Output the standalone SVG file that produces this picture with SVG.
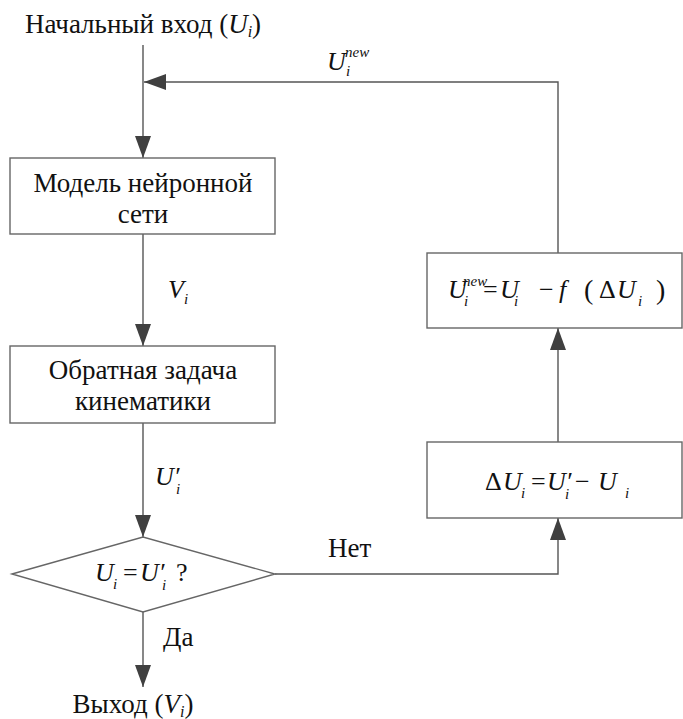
<svg xmlns="http://www.w3.org/2000/svg" width="683" height="719" viewBox="0 0 683 719">
<style>
text, tspan { font-family: 'Liberation Serif', serif !important; }
</style>
<defs>
<marker id="ah" viewBox="0 0 22 16" refX="22" refY="8" markerWidth="22" markerHeight="16" markerUnits="userSpaceOnUse" orient="auto">
<path d="M0,0 L22,8 L0,16 z" fill="#404040"/>
</marker>
</defs>
<g id="connectors" fill="none" stroke="#555" stroke-width="1.4">
<path d="M143,45 V158" marker-end="url(#ah)"/>
<path d="M558,253 V82 H144" marker-end="url(#ah)"/>
<path d="M143,234 V346" marker-end="url(#ah)"/>
<path d="M143,423 V537" marker-end="url(#ah)"/>
<path d="M143,612 V687" marker-end="url(#ah)"/>
<path d="M275,574 H558 V518" marker-end="url(#ah)"/>
<path d="M558,442 V328" marker-end="url(#ah)"/>
</g>
<g id="start">
<text style="font-family:'Liberation Serif' !important" font-family="Liberation Serif" fill="#111" font-size="27" x="143" y="33" text-anchor="middle">Начальный вход (<tspan font-style="italic">U</tspan><tspan font-style="italic" font-size="16" dy="4">i</tspan><tspan dy="-4">)</tspan></text>
</g>
<g id="label-unew" font-style="italic" fill="#111">
<text style="font-family:'Liberation Serif' !important" font-family="Liberation Serif" font-size="26" x="327" y="70">U</text>
<text style="font-family:'Liberation Serif' !important" font-family="Liberation Serif" font-size="15" x="345" y="57">new</text>
<text style="font-family:'Liberation Serif' !important" font-family="Liberation Serif" font-size="15" x="346" y="76">i</text>
</g>
<g id="nn" fill="#111">
<rect x="10" y="158" width="265" height="76" fill="#fff" stroke="#666" stroke-width="1.4"/>
<text style="font-family:'Liberation Serif' !important" font-family="Liberation Serif" font-size="27" x="143" y="192" text-anchor="middle">Модель нейронной</text>
<text style="font-family:'Liberation Serif' !important" font-family="Liberation Serif" font-size="27" x="143" y="223" text-anchor="middle">сети</text>
</g>
<g id="label-vi" font-style="italic" fill="#111">
<text style="font-family:'Liberation Serif' !important" font-family="Liberation Serif" font-size="26" x="168" y="298">V</text>
<text style="font-family:'Liberation Serif' !important" font-family="Liberation Serif" font-size="15" x="184" y="304">i</text>
</g>
<g id="ik" fill="#111">
<rect x="10" y="346" width="265" height="77" fill="#fff" stroke="#666" stroke-width="1.4"/>
<text style="font-family:'Liberation Serif' !important" font-family="Liberation Serif" font-size="27" x="143" y="379" text-anchor="middle">Обратная задача</text>
<text style="font-family:'Liberation Serif' !important" font-family="Liberation Serif" font-size="27" x="143" y="410" text-anchor="middle">кинематики</text>
</g>
<g id="label-uprime" font-style="italic" fill="#111">
<text style="font-family:'Liberation Serif' !important" font-family="Liberation Serif" font-size="26" x="155" y="485">U′</text>
<text style="font-family:'Liberation Serif' !important" font-family="Liberation Serif" font-size="15" x="176" y="494">i</text>
</g>
<g id="decision" fill="#111">
<path d="M12,574 L143,537 L275,574 L143,612 Z" fill="#fff" stroke="#666" stroke-width="1.4"/>
<text style="font-family:'Liberation Serif' !important" font-family="Liberation Serif" font-size="26" x="95" y="581" font-style="italic">U</text>
<text style="font-family:'Liberation Serif' !important" font-family="Liberation Serif" font-size="15" x="113" y="589" font-style="italic">i</text>
<text style="font-family:'Liberation Serif' !important" font-family="Liberation Serif" font-size="26" x="123" y="581">=</text>
<text style="font-family:'Liberation Serif' !important" font-family="Liberation Serif" font-size="26" x="140" y="581" font-style="italic">U′</text>
<text style="font-family:'Liberation Serif' !important" font-family="Liberation Serif" font-size="15" x="162" y="590" font-style="italic">i</text>
<text style="font-family:'Liberation Serif' !important" font-family="Liberation Serif" font-size="26" x="176" y="581">?</text>
</g>
<g id="label-yes" fill="#111">
<text style="font-family:'Liberation Serif' !important" font-family="Liberation Serif" font-size="27" x="163" y="646">Да</text>
</g>
<g id="end" fill="#111">
<text style="font-family:'Liberation Serif' !important" font-family="Liberation Serif" font-size="27" x="133" y="713" text-anchor="middle">Выход (<tspan font-style="italic">V</tspan><tspan font-style="italic" font-size="16" dy="4">i</tspan><tspan dy="-4">)</tspan></text>
</g>
<g id="label-no" fill="#111">
<text style="font-family:'Liberation Serif' !important" font-family="Liberation Serif" font-size="27" x="328" y="557">Нет</text>
</g>
<g id="delta" fill="#111">
<rect x="427" y="442" width="255" height="76" fill="#fff" stroke="#666" stroke-width="1.4"/>
<text style="font-family:'Liberation Serif' !important" font-family="Liberation Serif" font-size="26" x="485" y="490">Δ</text>
<text style="font-family:'Liberation Serif' !important" font-family="Liberation Serif" font-size="26" x="503" y="490" font-style="italic">U</text>
<text style="font-family:'Liberation Serif' !important" font-family="Liberation Serif" font-size="15" x="521" y="498" font-style="italic">i</text>
<text style="font-family:'Liberation Serif' !important" font-family="Liberation Serif" font-size="26" x="531" y="490">=</text>
<text style="font-family:'Liberation Serif' !important" font-family="Liberation Serif" font-size="26" x="547" y="490" font-style="italic">U′</text>
<text style="font-family:'Liberation Serif' !important" font-family="Liberation Serif" font-size="15" x="565" y="499" font-style="italic">i</text>
<text style="font-family:'Liberation Serif' !important" font-family="Liberation Serif" font-size="26" x="575" y="490">−</text>
<text style="font-family:'Liberation Serif' !important" font-family="Liberation Serif" font-size="26" x="598" y="490" font-style="italic">U</text>
<text style="font-family:'Liberation Serif' !important" font-family="Liberation Serif" font-size="15" x="625" y="498" font-style="italic">i</text>
</g>
<g id="update" fill="#111">
<rect x="427" y="253" width="255" height="75" fill="#fff" stroke="#666" stroke-width="1.4"/>
<text style="font-family:'Liberation Serif' !important" font-family="Liberation Serif" font-size="26" x="448" y="298" font-style="italic">U</text>
<text style="font-family:'Liberation Serif' !important" font-family="Liberation Serif" font-size="15" x="463" y="286" font-style="italic">new</text>
<text style="font-family:'Liberation Serif' !important" font-family="Liberation Serif" font-size="15" x="464" y="306" font-style="italic">i</text>
<text style="font-family:'Liberation Serif' !important" font-family="Liberation Serif" font-size="26" x="483" y="298">=</text>
<text style="font-family:'Liberation Serif' !important" font-family="Liberation Serif" font-size="26" x="500" y="298" font-style="italic">U</text>
<text style="font-family:'Liberation Serif' !important" font-family="Liberation Serif" font-size="15" x="514" y="306" font-style="italic">i</text>
<text style="font-family:'Liberation Serif' !important" font-family="Liberation Serif" font-size="26" x="539" y="298">−</text>
<text style="font-family:'Liberation Serif' !important" font-family="Liberation Serif" font-size="26" x="559" y="298" font-style="italic">f</text>
<text style="font-family:'Liberation Serif' !important" font-family="Liberation Serif" font-size="28" x="584" y="299">(</text>
<text style="font-family:'Liberation Serif' !important" font-family="Liberation Serif" font-size="26" x="599" y="298">Δ</text>
<text style="font-family:'Liberation Serif' !important" font-family="Liberation Serif" font-size="26" x="617" y="298" font-style="italic">U</text>
<text style="font-family:'Liberation Serif' !important" font-family="Liberation Serif" font-size="15" x="638" y="306" font-style="italic">i</text>
<text style="font-family:'Liberation Serif' !important" font-family="Liberation Serif" font-size="28" x="656" y="299">)</text>
</g>
</svg>
